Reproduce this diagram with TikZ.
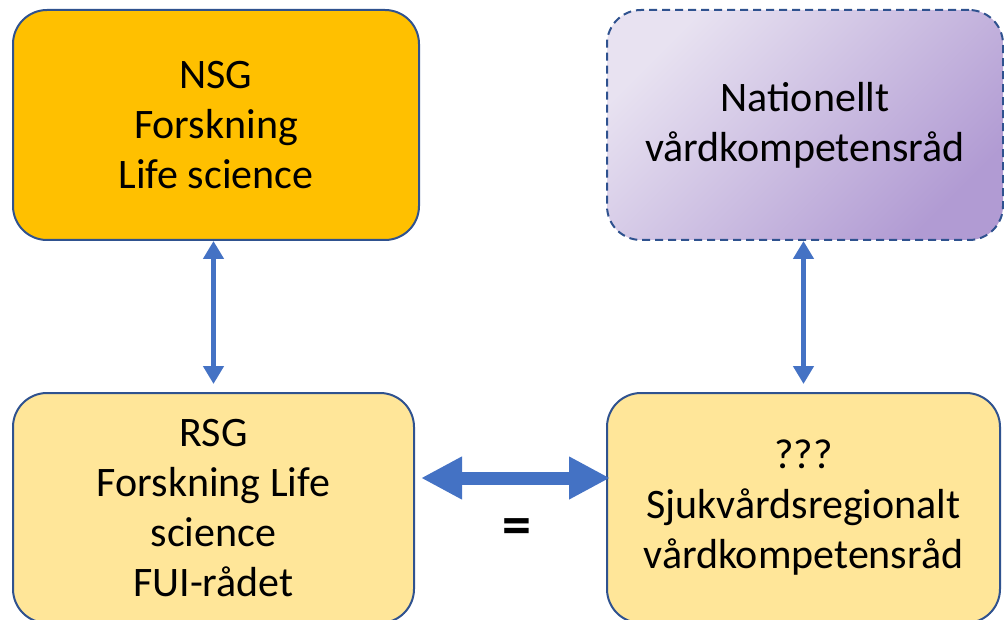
\documentclass[tikz,border=0pt]{standalone}
\usepackage{fontspec}
\setmainfont{Carlito}
\usetikzlibrary{arrows.meta,calc}
\definecolor{boxline}{HTML}{2F528F}
\definecolor{orangefill}{HTML}{FFC000}
\definecolor{yellowfill}{HTML}{FFE699}
\definecolor{arrowblue}{HTML}{4472C4}
\definecolor{purplelight}{HTML}{E8E2F1}
\definecolor{purpledark}{HTML}{B19BD3}
\begin{document}
\begin{tikzpicture}[x=1pt,y=1pt,
  box/.style={draw=boxline, line width=2pt, rounded corners=34pt,
    minimum height=230pt, align=center, inner sep=0pt,
    font=\fontsize{42}{50}\selectfont},
  varrow/.style={draw=arrowblue, line width=4.5pt,
    {Triangle[width=20pt,length=18pt]}-{Triangle[width=20pt,length=18pt]}},
  harrow/.style={draw=arrowblue, line width=13pt,
    {Triangle[width=40pt,length=41pt]}-{Triangle[width=40pt,length=41pt]}}
]
\useasboundingbox (0,0) rectangle (1004,-620);
\clip (0,0) rectangle (1004,-620);
\node[box, fill=orangefill, minimum width=406pt] (nsg) at (216,-125)
  {NSG\\Forskning\\Life science};
\node[box, dashed, dash pattern=on 8pt off 5pt, top color=purplelight, bottom color=purpledark,
  shading angle=45, minimum width=396pt] (nat) at (805,-125)
  {Nationellt\\vårdkompetensråd};
\node[box, fill=yellowfill, minimum width=401pt] (rsg) at (213.5,-508)
  {RSG\\Forskning Life\\science\\FUI-rådet};
\node[box, fill=yellowfill, minimum width=393pt] (sjuk) at (803.5,-508)
  {???\\Sjukvårdsregionalt\\vårdkompetensråd};
\node[font=\fontsize{58}{60}\selectfont\bfseries, inner sep=0pt] (eq) at (517,-532) {=};
\draw[varrow] (rsg.north |- nsg.south) -- ([yshift=8pt]rsg.north);
\draw[varrow] (sjuk.north |- nat.south) -- ([yshift=8pt]sjuk.north);
\draw[harrow, shorten <=6pt, shorten >=-4pt] ([yshift=30pt]rsg.east) -- ([yshift=30pt]sjuk.west);
\end{tikzpicture}
\end{document}
